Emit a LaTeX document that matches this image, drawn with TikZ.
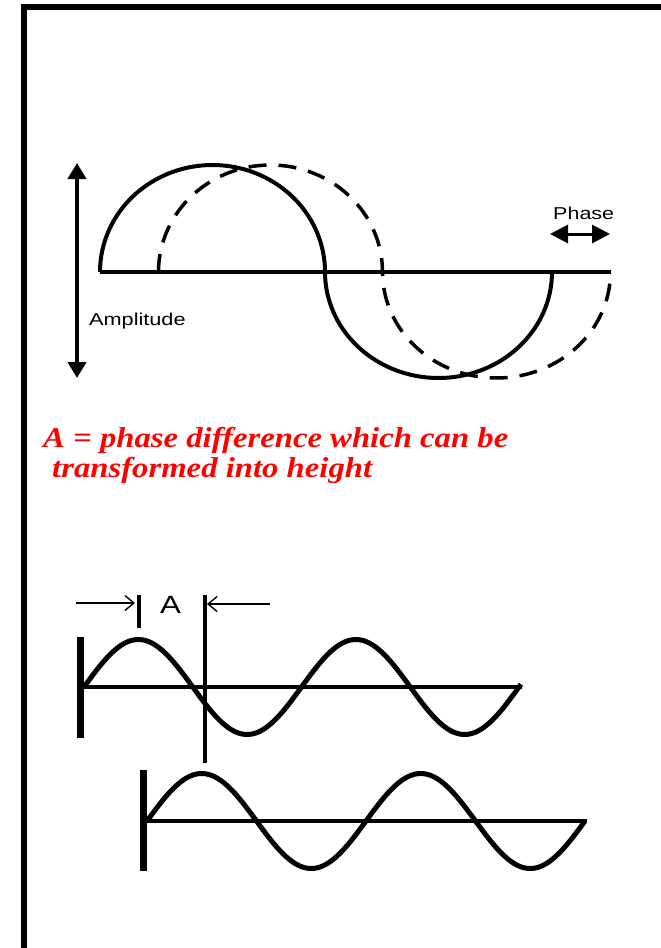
\documentclass[tikz,border=0pt]{standalone}
\usepackage{fontspec}
\usepackage{graphicx}
\setmainfont{Liberation Sans}
\newfontfamily\redserif{Liberation Serif}
\usetikzlibrary{arrows.meta}
\definecolor{txtred}{RGB}{255,0,0}
\begin{document}
\begin{tikzpicture}[x=1pt,y=-1pt,
  frame/.style={line width=6pt,miter limit=10},
  axisline/.style={line width=3.5pt},
  wave/.style={line width=4pt,line join=round},
  dashwave/.style={line width=3.5pt,dash pattern=on 18pt off 12pt},
  bigarrow/.style={line width=4pt,{Triangle[length=16pt,width=18pt]}-{Triangle[length=16pt,width=18pt]}},
  phasearrow/.style={line width=3pt,{Triangle[length=18pt,width=18pt]}-{Triangle[length=18pt,width=18pt]}},
  thinarrow/.style={line width=1.4pt,-{Straight Barb[length=9pt,width=15pt,line width=1.4pt]}},
  lbl/.style={inner sep=0pt,anchor=base west},
  redtxt/.style={inner sep=0pt,anchor=base west,text=txtred,font=\redserif\bfseries\itshape\fontsize{28.7}{30}\selectfont},
  bar/.style={line width=7pt},
  marker/.style={line width=3.5pt},
  sinewave/.style={line width=5pt,line join=round}
]
\useasboundingbox (0,0) rectangle (661,948);
% frame
\draw[frame] (24,948) -- (24,7) -- (661,7);

% ---------- top diagram ----------
\coordinate (ampTop) at (77,163);
\coordinate (ampBot) at (77,378);
\draw[bigarrow] (ampTop) -- (ampBot);
\coordinate (axL) at (100,272);
\coordinate (axR) at (611,272);
\draw[axisline] (axL) -- (axR);
% solid semi-ellipses
\draw[wave] plot[domain=180:0,samples=60,smooth] ({212.5+112.5*cos(\x)},{272-107*sin(\x)})
  -- plot[domain=180:360,samples=60,smooth] ({438.5+113.5*cos(\x)},{272-106*sin(\x)});
% dashed semi-ellipses
\draw[dashwave] plot[domain=180:0,samples=60,smooth] ({270.5+112*cos(\x)},{272-107*sin(\x)})
  -- plot[domain=180:360,samples=60,smooth] ({496.5+114*cos(\x)},{272-106*sin(\x)});
\node[lbl] (amp) at (89,325) {\fontsize{17.2}{20}\selectfont\scalebox{1.26}[1]{Amplitude}};
\node[lbl] (phase) at (553,219) {\fontsize{17.2}{20}\selectfont\scalebox{1.25}[1]{Phase}};
\coordinate (phL) at (550,234);
\coordinate (phR) at (610,234);
\draw[phasearrow] (phL) -- (phR);

% ---------- red text ----------
\node[redtxt] (red1) at (43,447) {\scalebox{1.14}[1]{A = phase difference which can be}};
\node[redtxt] (red2) at (52,477) {\scalebox{1.14}[1]{transformed into height}};

% ---------- bottom diagram ----------
\coordinate (la0) at (76,603);
\coordinate (la1) at (135,603);
\draw[thinarrow] (la0) -- (la1);
\coordinate (ra0) at (270,604);
\coordinate (ra1) at (207,604);
\draw[thinarrow] (ra0) -- (ra1);
\draw[marker] (139,595) -- (139,628);
\draw[marker] (205,595) -- (205,763);
\node[lbl] (alabel) at (160,613) {\fontsize{25}{26}\selectfont\scalebox{1.25}[1]{A}};
% upper wave
\draw[bar] (80,637) -- (80,738);
\draw[axisline] (80,687) -- (522,687);
\draw[sinewave] plot[domain=84:521,samples=150,smooth] (\x,{687-47.5*sin((\x-84)/217.5*360)});
% lower wave
\draw[bar] (143,770) -- (143,871);
\draw[axisline] (143,821) -- (587,821);
\draw[sinewave] plot[domain=147:585,samples=150,smooth] (\x,{821-47.5*sin((\x-147)/219*360)});
\end{tikzpicture}
\end{document}
